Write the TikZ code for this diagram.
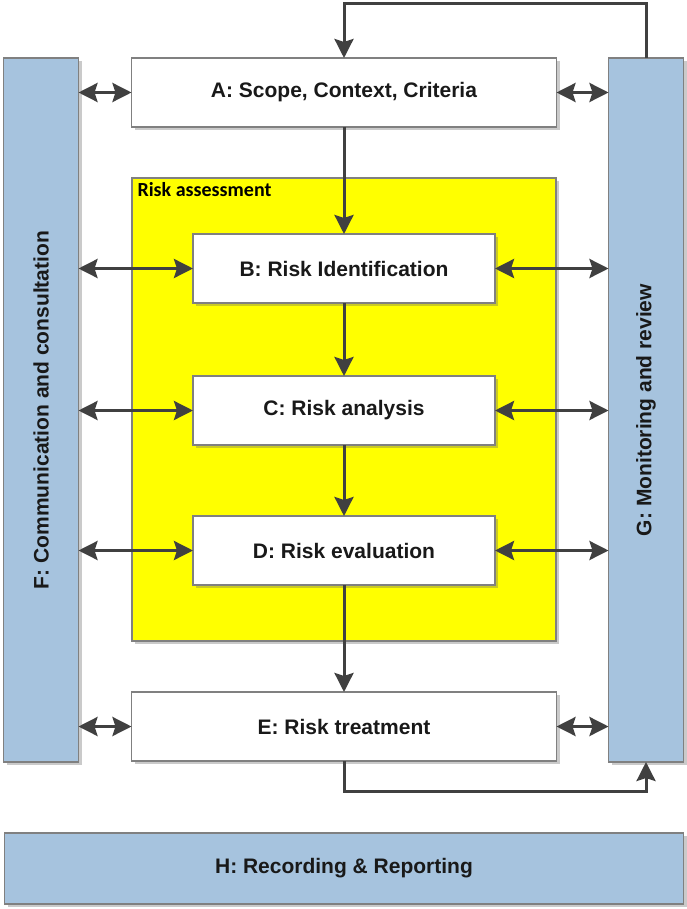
\documentclass[tikz,border=0pt]{standalone}
\usepackage{fontspec}
\setmainfont{Liberation Sans}
\newfontfamily\labelfont{Carlito}
\usepackage{tikz}
\usetikzlibrary{arrows.meta, positioning, fit, shadows, backgrounds}

\definecolor{sideblue}{RGB}{166,195,222}
\definecolor{edgegray}{RGB}{128,128,128}
\definecolor{arrowgray}{RGB}{64,64,64}
\definecolor{assessyellow}{RGB}{255,255,0}

\begin{document}
\begin{tikzpicture}[
x=1pt, y=-1pt,
>={Stealth[length=19pt, width=19pt, inset=3pt]},
box/.style={
    draw=edgegray,
    line width=1.3pt,
    outer sep=0pt,
    fill=white,
    rectangle,
    align=center,
    text=black!90,
    font=\fontsize{21}{24}\selectfont\bfseries,
    drop shadow={shadow xshift=3pt, shadow yshift=-3pt, opacity=0.35, fill=black!60},
    minimum height=69pt
},
sidebox/.style={
    box,
    fill=sideblue,
    minimum width=75pt,
    minimum height=704pt
},
arrow/.style={->, line width=3pt, draw=arrowgray},
dblarrow/.style={<->, line width=3pt, draw=arrowgray}
]
\useasboundingbox (0,0) rectangle (686,909);

% Main chain
\node[box, minimum width=425pt] (scope) at (344,92.5) {A: Scope, Context, Criteria};
\node[box, below=107pt of scope, minimum width=302pt] (ident) {B: Risk Identification};
\node[box, below=73pt of ident, minimum width=302pt] (analysis) {C: Risk analysis};
\node[box, below=71pt of analysis, minimum width=302pt] (evaluation) {D: Risk evaluation};
\node[box, below=107pt of evaluation, minimum width=425pt] (treatment) {E: Risk treatment};

% Side bars
\node[sidebox, left=53pt of scope.north west, anchor=north east,
    label={[rotate=90, font=\fontsize{21}{24}\selectfont\bfseries, text=black!90]center:{F: Communication and consultation}}] (comm) {};
\node[sidebox, right=52pt of scope.north east, anchor=north west,
    label={[rotate=90, font=\fontsize{21}{24}\selectfont\bfseries, text=black!90]center:{G: Monitoring and review}}] (monitor) {};

% Recording box
\node[box, fill=sideblue, below=72pt of treatment, minimum width=679pt, minimum height=71pt] (record) {H: Recording \& Reporting};

% Risk assessment area
\begin{scope}[on background layer]
\node[
    draw=edgegray,
    line width=1.3pt,
    fill=assessyellow,
    drop shadow={shadow xshift=3pt, shadow yshift=-3pt, opacity=0.35, fill=black!60},
    fit=(ident)(evaluation),
    inner xsep=61pt,
    inner ysep=56pt
] (assess) {};
\end{scope}
\node[anchor=north west, inner sep=0pt, font=\labelfont\fontsize{20}{22}\selectfont\bfseries]
    at ([xshift=6pt, yshift=-5pt]assess.north west) (assesslabel) {Risk assessment};

% Arrows down the chain
\draw[arrow] (scope) -- (ident);
\draw[arrow] (ident) -- (analysis);
\draw[arrow] (analysis) -- (evaluation);
\draw[arrow] (evaluation) -- (treatment);

% Feedback loops
\draw[arrow] (monitor.north) -- ++(0,-54) -| (scope.north);
\draw[arrow] (treatment.south) -- ++(0,30) -| (monitor.south);

% Links to the side bars
\draw[dblarrow] (scope.west -| comm.east) -- (scope.west);
\draw[dblarrow] (ident.west -| comm.east) -- (ident.west);
\draw[dblarrow] (analysis.west -| comm.east) -- (analysis.west);
\draw[dblarrow] (evaluation.west -| comm.east) -- (evaluation.west);
\draw[dblarrow] (treatment.west -| comm.east) -- (treatment.west);
\draw[dblarrow] (scope.east) -- (scope.east -| monitor.west);
\draw[dblarrow] (ident.east) -- (ident.east -| monitor.west);
\draw[dblarrow] (analysis.east) -- (analysis.east -| monitor.west);
\draw[dblarrow] (evaluation.east) -- (evaluation.east -| monitor.west);
\draw[dblarrow] (treatment.east) -- (treatment.east -| monitor.west);

\end{tikzpicture}
\end{document}
